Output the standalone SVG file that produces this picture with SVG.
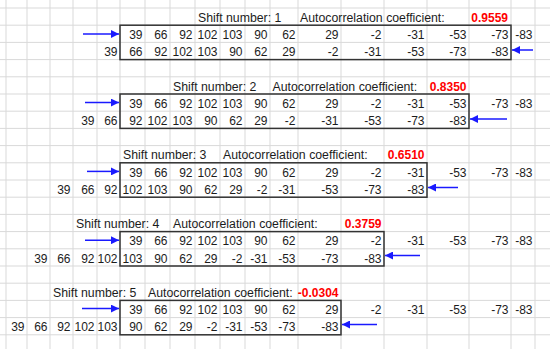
<svg xmlns="http://www.w3.org/2000/svg" width="550" height="349" viewBox="0 0 550 349">
<defs>
<style>
.grid line{stroke:#d9d9d9;stroke-width:1}
.n{font-family:"Liberation Sans",Arial,sans-serif;font-size:12px;fill:#1c1c1c;text-anchor:end}
.lbl{font-family:"Liberation Sans",Arial,sans-serif;font-size:12.3px;fill:#1c1c1c}
.coef{font-family:"Liberation Sans",Arial,sans-serif;font-size:12px;font-weight:bold;fill:#ff0000;text-anchor:end}
.box{fill:none;stroke:#333;stroke-width:1.5}
.arr{stroke:#1a1aff;stroke-width:1.5;fill:none;marker-end:url(#ah)}
</style>
<marker id="ah" markerUnits="userSpaceOnUse" markerWidth="9" markerHeight="8" refX="8" refY="4" orient="auto">
<path d="M0,0 L8,4 L0,8 Z" fill="#1a1aff"/>
</marker>
</defs>
<rect width="550" height="349" fill="#fff"/>
<g class="grid">
<line x1="6" y1="0" x2="6" y2="349"/><line x1="27" y1="0" x2="27" y2="349"/><line x1="50" y1="0" x2="50" y2="349"/><line x1="73" y1="0" x2="73" y2="349"/><line x1="97" y1="0" x2="97" y2="349"/><line x1="120" y1="0" x2="120" y2="349"/><line x1="145" y1="0" x2="145" y2="349"/><line x1="170" y1="0" x2="170" y2="349"/><line x1="195" y1="0" x2="195" y2="349"/><line x1="220" y1="0" x2="220" y2="349"/><line x1="245" y1="0" x2="245" y2="349"/><line x1="270" y1="0" x2="270" y2="349"/><line x1="298" y1="0" x2="298" y2="349"/><line x1="341" y1="0" x2="341" y2="349"/><line x1="384" y1="0" x2="384" y2="349"/><line x1="427" y1="0" x2="427" y2="349"/><line x1="469" y1="0" x2="469" y2="349"/><line x1="511" y1="0" x2="511" y2="349"/><line x1="535" y1="0" x2="535" y2="349"/>
<line x1="0" y1="8" x2="550" y2="8"/><line x1="0" y1="25.2" x2="550" y2="25.2"/><line x1="0" y1="42.4" x2="550" y2="42.4"/><line x1="0" y1="59.6" x2="550" y2="59.6"/><line x1="0" y1="76.8" x2="550" y2="76.8"/><line x1="0" y1="94" x2="550" y2="94"/><line x1="0" y1="111.2" x2="550" y2="111.2"/><line x1="0" y1="128.4" x2="550" y2="128.4"/><line x1="0" y1="145.6" x2="550" y2="145.6"/><line x1="0" y1="162.8" x2="550" y2="162.8"/><line x1="0" y1="180" x2="550" y2="180"/><line x1="0" y1="197.2" x2="550" y2="197.2"/><line x1="0" y1="214.4" x2="550" y2="214.4"/><line x1="0" y1="231.6" x2="550" y2="231.6"/><line x1="0" y1="248.8" x2="550" y2="248.8"/><line x1="0" y1="266" x2="550" y2="266"/><line x1="0" y1="283.2" x2="550" y2="283.2"/><line x1="0" y1="300.4" x2="550" y2="300.4"/><line x1="0" y1="317.6" x2="550" y2="317.6"/><line x1="0" y1="334.8" x2="550" y2="334.8"/>
</g>

<g id="shift1">
<rect class="box" x="120" y="25.2" width="391" height="34.4"/>
<text class="lbl" x="198" y="21.7">Shift number: 1</text>
<text class="lbl" x="300" y="21.7">Autocorrelation coefficient:</text>
<text class="coef" x="508" y="21.7">0.9559</text>
<g transform="translate(0,38.9)">
<text class="n" x="142.5">39</text><text class="n" x="167.5">66</text><text class="n" x="192.5">92</text><text class="n" x="217.5">102</text><text class="n" x="242.5">103</text><text class="n" x="267.5">90</text><text class="n" x="295.5">62</text><text class="n" x="338.5">29</text><text class="n" x="381.5">-2</text><text class="n" x="424.5">-31</text><text class="n" x="466.5">-53</text><text class="n" x="508.5">-73</text><text class="n" x="532.5">-83</text>
</g>
<g transform="translate(0,56.1)">
<text class="n" x="117.5">39</text><text class="n" x="142.5">66</text><text class="n" x="167.5">92</text><text class="n" x="192.5">102</text><text class="n" x="217.5">103</text><text class="n" x="242.5">90</text><text class="n" x="267.5">62</text><text class="n" x="295.5">29</text><text class="n" x="338.5">-2</text><text class="n" x="381.5">-31</text><text class="n" x="424.5">-53</text><text class="n" x="466.5">-73</text><text class="n" x="508.5">-83</text>
</g>
</g>

<g id="shift2">
<rect class="box" x="120" y="94" width="349" height="34.4"/>
<text class="lbl" x="173" y="90.5">Shift number: 2</text>
<text class="lbl" x="272.5" y="90.5">Autocorrelation coefficient:</text>
<text class="coef" x="466.5" y="90.5">0.8350</text>
<g transform="translate(0,107.7)">
<text class="n" x="142.5">39</text><text class="n" x="167.5">66</text><text class="n" x="192.5">92</text><text class="n" x="217.5">102</text><text class="n" x="242.5">103</text><text class="n" x="267.5">90</text><text class="n" x="295.5">62</text><text class="n" x="338.5">29</text><text class="n" x="381.5">-2</text><text class="n" x="424.5">-31</text><text class="n" x="466.5">-53</text><text class="n" x="508.5">-73</text><text class="n" x="532.5">-83</text>
</g>
<g transform="translate(0,124.9)">
<text class="n" x="94.5">39</text><text class="n" x="117.5">66</text><text class="n" x="142.5">92</text><text class="n" x="167.5">102</text><text class="n" x="192.5">103</text><text class="n" x="217.5">90</text><text class="n" x="242.5">62</text><text class="n" x="267.5">29</text><text class="n" x="295.5">-2</text><text class="n" x="338.5">-31</text><text class="n" x="381.5">-53</text><text class="n" x="424.5">-73</text><text class="n" x="466.5">-83</text>
</g>
</g>

<g id="shift3">
<rect class="box" x="120" y="162.8" width="307" height="34.4"/>
<text class="lbl" x="123" y="159.3">Shift number: 3</text>
<text class="lbl" x="223" y="159.3">Autocorrelation coefficient:</text>
<text class="coef" x="424.5" y="159.3">0.6510</text>
<g transform="translate(0,176.5)">
<text class="n" x="142.5">39</text><text class="n" x="167.5">66</text><text class="n" x="192.5">92</text><text class="n" x="217.5">102</text><text class="n" x="242.5">103</text><text class="n" x="267.5">90</text><text class="n" x="295.5">62</text><text class="n" x="338.5">29</text><text class="n" x="381.5">-2</text><text class="n" x="424.5">-31</text><text class="n" x="466.5">-53</text><text class="n" x="508.5">-73</text><text class="n" x="532.5">-83</text>
</g>
<g transform="translate(0,193.7)">
<text class="n" x="70.5">39</text><text class="n" x="94.5">66</text><text class="n" x="117.5">92</text><text class="n" x="142.5">102</text><text class="n" x="167.5">103</text><text class="n" x="192.5">90</text><text class="n" x="217.5">62</text><text class="n" x="242.5">29</text><text class="n" x="267.5">-2</text><text class="n" x="295.5">-31</text><text class="n" x="338.5">-53</text><text class="n" x="381.5">-73</text><text class="n" x="424.5">-83</text>
</g>
</g>

<g id="shift4">
<rect class="box" x="120" y="231.6" width="264" height="34.4"/>
<text class="lbl" x="76" y="228.1">Shift number: 4</text>
<text class="lbl" x="173" y="228.1">Autocorrelation coefficient:</text>
<text class="coef" x="381.5" y="228.1">0.3759</text>
<g transform="translate(0,245.3)">
<text class="n" x="142.5">39</text><text class="n" x="167.5">66</text><text class="n" x="192.5">92</text><text class="n" x="217.5">102</text><text class="n" x="242.5">103</text><text class="n" x="267.5">90</text><text class="n" x="295.5">62</text><text class="n" x="338.5">29</text><text class="n" x="381.5">-2</text><text class="n" x="424.5">-31</text><text class="n" x="466.5">-53</text><text class="n" x="508.5">-73</text><text class="n" x="532.5">-83</text>
</g>
<g transform="translate(0,262.5)">
<text class="n" x="47.5">39</text><text class="n" x="70.5">66</text><text class="n" x="94.5">92</text><text class="n" x="117.5">102</text><text class="n" x="142.5">103</text><text class="n" x="167.5">90</text><text class="n" x="192.5">62</text><text class="n" x="217.5">29</text><text class="n" x="242.5">-2</text><text class="n" x="267.5">-31</text><text class="n" x="295.5">-53</text><text class="n" x="338.5">-73</text><text class="n" x="381.5">-83</text>
</g>
</g>

<g id="shift5">
<rect class="box" x="120" y="300.4" width="221" height="34.4"/>
<text class="lbl" x="53" y="296.9">Shift number: 5</text>
<text class="lbl" x="148" y="296.9">Autocorrelation coefficient:</text>
<text class="coef" x="338.5" y="296.9">-0.0304</text>
<g transform="translate(0,314.1)">
<text class="n" x="142.5">39</text><text class="n" x="167.5">66</text><text class="n" x="192.5">92</text><text class="n" x="217.5">102</text><text class="n" x="242.5">103</text><text class="n" x="267.5">90</text><text class="n" x="295.5">62</text><text class="n" x="338.5">29</text><text class="n" x="381.5">-2</text><text class="n" x="424.5">-31</text><text class="n" x="466.5">-53</text><text class="n" x="508.5">-73</text><text class="n" x="532.5">-83</text>
</g>
<g transform="translate(0,331.3)">
<text class="n" x="24.5">39</text><text class="n" x="47.5">66</text><text class="n" x="70.5">92</text><text class="n" x="94.5">102</text><text class="n" x="117.5">103</text><text class="n" x="142.5">90</text><text class="n" x="167.5">62</text><text class="n" x="192.5">29</text><text class="n" x="217.5">-2</text><text class="n" x="242.5">-31</text><text class="n" x="267.5">-53</text><text class="n" x="295.5">-73</text><text class="n" x="338.5">-83</text>
</g>
</g>

<g id="connectors">
<line class="arr" x1="83" y1="34" x2="119" y2="34"/>
<line class="arr" x1="533" y1="50" x2="512" y2="50"/>
<line class="arr" x1="85" y1="102.6" x2="119" y2="102.6"/>
<line class="arr" x1="507" y1="119" x2="470" y2="119"/>
<line class="arr" x1="87" y1="171.4" x2="119" y2="171.4"/>
<line class="arr" x1="458" y1="187.5" x2="428" y2="187.5"/>
<line class="arr" x1="85" y1="240.2" x2="119" y2="240.2"/>
<line class="arr" x1="420" y1="255.5" x2="385" y2="255.5"/>
<line class="arr" x1="82" y1="308.6" x2="119" y2="308.6"/>
<line class="arr" x1="377" y1="324.5" x2="342" y2="324.5"/>
</g>
</svg>
